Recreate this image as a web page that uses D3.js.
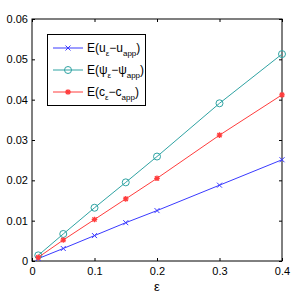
<!DOCTYPE html>
<html>
<head>
<meta charset="utf-8">
<script src="https://cdn.jsdelivr.net/npm/d3@7"></script>
<style>
  body { margin: 0; background: #fff; }
  text { font-family: "Liberation Sans", Arial, sans-serif; }
</style>
</head>
<body>
<script>
(function () {
  "use strict";
  var w = 300, h = 300;
  var margin = {top: 19, right: 18, bottom: 39, left: 32};

  var eps = [0.01, 0.05, 0.1, 0.15, 0.2, 0.3, 0.4];
  var errU   = [0.0006, 0.0031, 0.0063, 0.0095, 0.0125, 0.0188, 0.0251];
  var errPsi = [0.0014, 0.0067, 0.0132, 0.0195, 0.0259, 0.0391, 0.0513];
  var errC   = [0.0009, 0.0052, 0.0103, 0.0154, 0.0205, 0.0312, 0.0412];
  var xTicks = [0, 0.1, 0.2, 0.3, 0.4];
  var yTicks = [0, 0.01, 0.02, 0.03, 0.04, 0.05, 0.06];

  var series = [
    {name: "u", values: errU, color: "#3a3aff", marker: "x"},
    {name: "psi", values: errPsi, color: "#2fa3a3", marker: "o"},
    {name: "c", values: errC, color: "#ff3c3c", marker: "star"}
  ];

  var svg = d3.select("body").append("svg")
              .attr("width", w)
              .attr("height", h);

  var x = d3.scaleLinear().domain([0, 0.4]).range([margin.left, w - margin.right]);
  var y = d3.scaleLinear().domain([0, 0.06]).range([h - margin.bottom, margin.top]);

  // box
  svg.append("rect")
     .attr("x", x(0)).attr("y", y(0.06))
     .attr("width", x(0.4) - x(0)).attr("height", y(0) - y(0.06))
     .attr("fill", "none").attr("stroke", "#000").attr("stroke-width", 1);

  var tickLen = 3;
  var xAxis = d3.axisBottom(x).tickValues(xTicks).tickSizeInner(-tickLen).tickSizeOuter(0)
                .tickFormat(function (d) { return d === 0 ? "0" : d3.format(".1f")(d); });
  var yAxis = d3.axisLeft(y).tickValues(yTicks).tickSizeInner(-tickLen).tickSizeOuter(0)
                .tickFormat(function (d) { return d === 0 ? "0" : d3.format(".2f")(d); });

  var gx = svg.append("g").attr("transform", "translate(0," + y(0) + ")").call(xAxis);
  var gy = svg.append("g").attr("transform", "translate(" + x(0) + ",0)").call(yAxis);
  [gx, gy].forEach(function (g) {
    g.select(".domain").remove();
    g.selectAll("text").attr("font-size", 11).attr("fill", "#000")
     .attr("font-family", "Liberation Sans, Arial, sans-serif");
    g.selectAll("line").attr("stroke", "#000");
  });
  gx.selectAll("text").attr("y", 6);
  gy.selectAll("text").attr("x", -4);

  // top and right ticks
  svg.append("g").attr("transform", "translate(0," + y(0.06) + ")")
     .call(d3.axisTop(x).tickValues(xTicks).tickSizeInner(-tickLen).tickSizeOuter(0).tickFormat(""))
     .call(function (g) { g.select(".domain").remove(); });
  svg.append("g").attr("transform", "translate(" + x(0.4) + ",0)")
     .call(d3.axisRight(y).tickValues(yTicks).tickSizeInner(-tickLen).tickSizeOuter(0).tickFormat(""))
     .call(function (g) { g.select(".domain").remove(); });

  svg.append("text")
     .attr("x", (x(0) + x(0.4)) / 2).attr("y", 291)
     .attr("text-anchor", "middle").attr("font-size", 13)
     .text("ε");

  function drawMarker(g, type, color, cx, cy) {
    if (type === "x") {
      g.append("path").attr("d", "M" + (cx - 2.5) + "," + (cy - 2.5) + "L" + (cx + 2.5) + "," + (cy + 2.5) +
                               "M" + (cx - 2.5) + "," + (cy + 2.5) + "L" + (cx + 2.5) + "," + (cy - 2.5))
       .attr("stroke", color).attr("stroke-width", 1).attr("fill", "none");
    } else if (type === "o") {
      g.append("circle").attr("cx", cx).attr("cy", cy).attr("r", 3.5)
       .attr("stroke", color).attr("stroke-width", 1).attr("fill", "none");
    } else {
      var s = 2.8;
      g.append("path").attr("d",
          "M" + (cx - s) + "," + cy + "L" + (cx + s) + "," + cy +
          "M" + cx + "," + (cy - s) + "L" + cx + "," + (cy + s) +
          "M" + (cx - s * 0.75) + "," + (cy - s * 0.75) + "L" + (cx + s * 0.75) + "," + (cy + s * 0.75) +
          "M" + (cx - s * 0.75) + "," + (cy + s * 0.75) + "L" + (cx + s * 0.75) + "," + (cy - s * 0.75))
       .attr("stroke", color).attr("stroke-width", 1.3).attr("fill", "none");
    }
  }

  var line = d3.line().x(function (d) { return x(d[0]); }).y(function (d) { return y(d[1]); });

  series.forEach(function (s) {
    var pts = eps.map(function (e, i) { return [e, s.values[i]]; });
    var g = svg.append("g");
    g.append("path").attr("d", line(pts)).attr("fill", "none")
     .attr("stroke", s.color).attr("stroke-width", 1);
    pts.forEach(function (p) { drawMarker(g, s.marker, s.color, x(p[0]), y(p[1])); });
  });

  // legend
  var lg = svg.append("g");
  lg.append("rect").attr("x", 47.5).attr("y", 34.5).attr("width", 98).attr("height", 71)
    .attr("fill", "#fff").attr("stroke", "#000").attr("stroke-width", 1);
  var labels = [
    [["E(u", 0], ["ε", 1], ["−u", 0], ["app", 1], [")", 0]],
    [["E(ψ", 0], ["ε", 1], ["−ψ", 0], ["app", 1], [")", 0]],
    [["E(c", 0], ["ε", 1], ["−c", 0], ["app", 1], [")", 0]]
  ];
  series.forEach(function (s, i) {
    var cy = 48 + i * 22;
    lg.append("line").attr("x1", 53).attr("x2", 83).attr("y1", cy).attr("y2", cy)
      .attr("stroke", s.color).attr("stroke-width", 1);
    drawMarker(lg, s.marker, s.color, 68, cy);
    var t = lg.append("text").attr("x", 87).attr("y", cy + 4).attr("font-size", 12);
    labels[i].forEach(function (p) {
      var ts = t.append("tspan").text(p[0]);
      if (p[1]) {
        ts.attr("font-size", 8).attr("dy", 4);
      } else {
        ts.attr("dy", 0);
      }
    });
    // restore baselines after subscripts
    var nodes = t.selectAll("tspan").nodes();
    var shift = 0;
    nodes.forEach(function (n, k) {
      var sub = labels[i][k][1];
      var target = sub ? 4 : 0;
      d3.select(n).attr("dy", target - shift);
      shift = target;
    });
  });
})();
</script>
</body>
</html>
